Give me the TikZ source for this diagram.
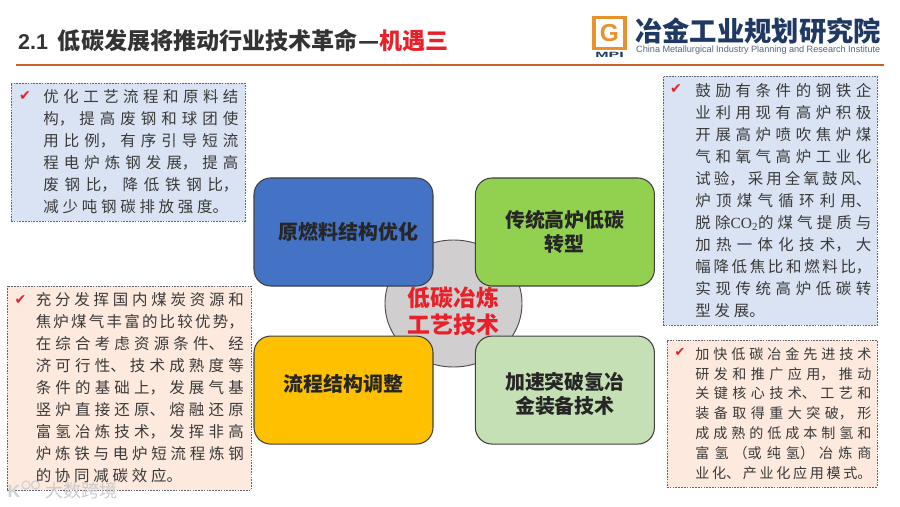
\documentclass[tikz,border=0pt]{standalone}
\usepackage{fontspec}
\usepackage{xcolor}
\usepackage{graphicx}
\setmainfont{Noto Sans CJK SC}
\newfontfamily\latinfont{Liberation Sans}
\newfontfamily\coserif{Liberation Serif}
\newfontfamily\tickfont{DejaVu Sans}
\usetikzlibrary{positioning, shapes.geometric}
\definecolor{MpiNavy}{HTML}{1F3864}
\definecolor{MpiOrange}{HTML}{E8912D}
\definecolor{MpiRule}{HTML}{C9602B}
\definecolor{MpiGrey}{HTML}{55657A}
\definecolor{TitleInk}{HTML}{333333}
\definecolor{AccentRed}{HTML}{E8202A}
\definecolor{PanelBlue}{HTML}{DAE3F3}
\definecolor{PanelPink}{HTML}{FDE9DD}
\definecolor{PanelEdge}{HTML}{5F6470}
\definecolor{BoxBlue}{HTML}{4472C4}
\definecolor{BoxGreen}{HTML}{92D050}
\definecolor{BoxYellow}{HTML}{FFC000}
\definecolor{BoxPale}{HTML}{C5E0B4}
\definecolor{HubGrey}{HTML}{D0CECE}
\definecolor{BodyInk}{HTML}{3A3A3A}
\tikzset{
    % Rounded theme box
    themebox/.style={
        rectangle,
        rounded corners=0.5cm,
        draw=black!75,
        line width=0.9pt,
        minimum width=5.37cm,
        minimum height=3.24cm,
        align=center,
        text=black!85,
        font=\fontsize{17}{20.5}\selectfont\bfseries
    },
    % Dashed text panel
    panel/.style={
        rectangle,
        draw=PanelEdge,
        dash pattern=on 1.4pt off 1pt,
        line width=0.6pt
    },
    % Text inside a panel
    paneltext/.style={
        inner sep=0pt,
        anchor=east,
        align=justify,
        text=BodyInk,
        font=\fontsize{13.2}{18.76}\selectfont,
        execute at begin node={\XeTeXlinebreakskip=3.2pt plus 1pt minus 2pt}
    },
    % Red check mark
    tick/.style={
        inner sep=0pt,
        text=AccentRed,
        font=\tickfont\fontsize{12}{12}\selectfont
    },
    % Watermark pieces
    markring/.style={
        circle,
        draw=black!18,
        line width=1pt,
        minimum size=0.24cm,
        inner sep=0pt
    }
}
\XeTeXlinebreaklocale "zh"
\XeTeXlinebreakskip=0pt
\tolerance=10000
\hbadness=10000
\begin{document}
\begin{tikzpicture}[x=0.03cm, y=-0.03cm, node distance=1.47cm and 1.24cm]
    \useasboundingbox (0,0) rectangle (900,507);

    % Title and rule
    \node (title) [anchor=west, inner sep=0pt, text=TitleInk, font=\fontsize{19.7}{23}\selectfont\bfseries] at (18,41)
        {{\latinfont\fontsize{18.3}{23}\selectfont 2.1}\hspace{8.5pt}低碳发展将推动行业技术革命—\textcolor{AccentRed}{机遇三}};
    \coordinate (ruleL) at (16,65);
    \coordinate (ruleR) at (884,65);
    \draw [MpiRule, line width=1.6pt] (ruleL) -- (ruleR);

    % Logo
    \node (logoG) [rectangle, draw=MpiOrange, fill=white, line width=3.4pt, minimum size=0.93cm, inner sep=0pt, text=MpiOrange, font=\latinfont\fontsize{21}{21}\selectfont\bfseries] at (609.5,33) {G};
    \node (logoMpi) [below=0.05cm of logoG, inner sep=0pt, text=MpiNavy, font=\latinfont\fontsize{6.5}{7}\selectfont\bfseries] {\scalebox{2.1}[1]{MPI}};
    \node (logoName) [anchor=west, inner sep=0pt, text=MpiNavy, font=\fontsize{23.3}{26}\selectfont\bfseries] at (635,31.5) {冶金工业规划研究院};
    \node (logoSub) [anchor=west, inner sep=0pt, text=MpiGrey, font=\latinfont\fontsize{7.8}{8}\selectfont] at (636,50)
        {\makebox[7.32cm][s]{China Metallurgical Industry Planning and Research Institute}};

    % Centre hub
    \node (hub) [ellipse, draw=black!70, fill=HubGrey, line width=0.8pt, minimum width=4.11cm, minimum height=3.81cm] at (453.5,303.5) {};

    % Theme boxes
    \node (fuel) [themebox, fill=BoxBlue] at (343.5,232) {\hspace*{0.3cm}原燃料结构优化};
    \node (furnace) [themebox, fill=BoxGreen, right=of fuel] {传统高炉低碳\\转型};
    \node (flow) [themebox, fill=BoxYellow, below=of fuel, text height=14pt, text depth=12pt] {流程结构调整};
    \node (hydrogen) [themebox, fill=BoxPale, right=of flow, text height=43pt, text depth=2.5pt] {加速突破氢冶\\金装备技术};
    \node (hubtext) [align=center, inner sep=0pt, text=AccentRed, font=\fontsize{19.5}{23}\selectfont\bfseries] at (453.5,311) {低碳冶炼\\工艺技术};

    % Upper left panel
    \node (panelA) [panel, fill=PanelBlue, minimum width=7.02cm, minimum height=4.14cm] at (128,152) {};
    \node (tickA) [tick] at (25,96) {✔};
    \node (textA) [paneltext, text width=5.85cm, xshift=-0.2cm] at (panelA.east) {优化工艺流程和原料结\linebreak 构，提高废钢和球团使\linebreak 用比例，有序引导短流\linebreak 程电炉炼钢发展，提高\linebreak 废钢比，降低铁钢比，\linebreak 减少吨钢碳排放强度。};

    % Upper right panel
    \node (panelB) [panel, fill=PanelBlue, minimum width=6.42cm, minimum height=7.47cm] at (770,200.5) {};
    \node (tickB) [tick] at (676,89) {✔};
    \node (textB) [paneltext, text width=5.28cm, xshift=-0.17cm] at (panelB.east) {鼓励有条件的钢铁企\linebreak 业利用现有高炉积极\linebreak 开展高炉喷吹焦炉煤\linebreak 气和氧气高炉工业化\linebreak 试验，采用全氧鼓风、\linebreak 炉顶煤气循环利用、\linebreak 脱除{\coserif CO\textsubscript{2}}的煤气提质与\linebreak 加热一体化技术，大\linebreak 幅降低焦比和燃料比，\linebreak 实现传统高炉低碳转\linebreak 型发展。};

    % Lower left panel
    \node (panelC) [panel, fill=PanelPink, minimum width=7.32cm, minimum height=6.12cm] at (129,388) {};
    \node (tickC) [tick] at (20.5,300) {✔};
    \node (textC) [paneltext, text width=6.24cm, xshift=-0.22cm] at (panelC.east) {充分发挥国内煤炭资源和\linebreak 焦炉煤气丰富的比较优势，\linebreak 在综合考虑资源条件、经\linebreak 济可行性、技术成熟度等\linebreak 条件的基础上，发展气基\linebreak 竖炉直接还原、熔融还原\linebreak 富氢冶炼技术，发挥非高\linebreak 炉炼铁与电炉短流程炼钢\linebreak 的协同减碳效应。};

    % Lower right panel
    \node (panelD) [panel, fill=PanelPink, minimum width=6.3cm, minimum height=4.41cm] at (772,413.5) {};
    \node (tickD) [tick, font=\tickfont\fontsize{11}{11}\selectfont] at (680,352) {✔};
    \node (textD) [paneltext, text width=5.28cm, xshift=-0.17cm, font=\fontsize{12}{17}\selectfont] at (panelD.east) {加快低碳冶金先进技术\linebreak 研发和推广应用，推动\linebreak 关键核心技术、工艺和\linebreak 装备取得重大突破，形\linebreak 成成熟的低成本制氢和\linebreak 富氢（或纯氢）冶炼商\linebreak 业化、产业化应用模式。};

    % Watermark
    \node (markA) [markring] at (26,485) {};
    \node (markB) [markring, right=0.01cm of markA] {};
    \node (markC) [inner sep=0pt, text=black!18, font=\latinfont\fontsize{15}{15}\selectfont\bfseries] at (14,491) {K};
    \node (markText) [anchor=west, inner sep=0pt, text=black!20, font=\fontsize{15.5}{18}\selectfont] at (45,491) {大数跨境};
\end{tikzpicture}
\end{document}
